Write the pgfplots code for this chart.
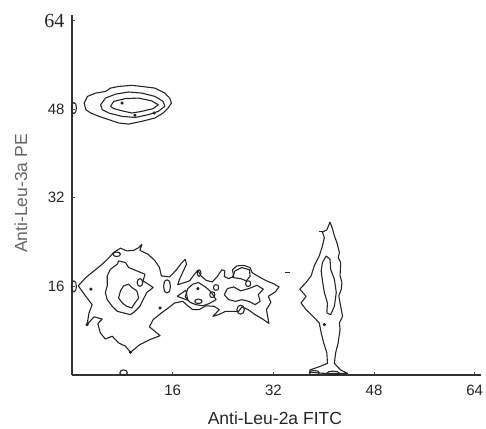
\documentclass[border=0pt]{standalone}
\usepackage{fontspec}
\setmainfont{Liberation Sans}
\newfontfamily\seriffont{Liberation Serif}
\usepackage{pgfplots}
\pgfplotsset{compat=1.18}
\begin{document}
\begin{tikzpicture}
\begin{axis}[
 scale only axis, width=409pt, height=360pt,
 xmin=0, xmax=65, ymin=0, ymax=65,
 axis lines=left,
 axis line style={-, line width=2.2pt, color=black!80},
 xtick={16,32,48,64}, ytick={16,32,48,64},
 xticklabels={16,32,48,64},
 yticklabels={16,32,48,{\seriffont\fontsize{20}{20}\selectfont 64}},
 tick align=inside, major tick length=3pt,
 tick style={black!70, line width=0.8pt},
 ticklabel style={font=\fontsize{15}{15}\selectfont, text=black!85},
 xticklabel style={yshift=-6pt},
 yticklabel style={xshift=-4pt},
 xlabel={Anti-Leu-2a FITC}, ylabel={Anti-Leu-3a PE},
 xlabel style={font=\fontsize{17.5}{18}\selectfont, text=black!85, at={(axis description cs:0.496,-0.119)}, anchor=center},
 ylabel style={font=\fontsize{17.5}{18}\selectfont, text=black!60, at={(axis description cs:-0.125,0.504)}, anchor=center},
 clip=false,
 every axis plot/.append style={line width=1.1pt, color=black!85, line join=round},
]
% ---- top cluster (y ~ 48)
\addplot[mark=none] coordinates {(1.93,49.1)(2.46,50.3)(3.76,50.9)(5.33,51.2)(6.12,51.8)(7.42,52.1)(9.52,52.3)(11.09,52.1)(13.18,51.8)(14.75,50.9)(15.53,50.0)(15.79,49.1)(15.27,48.2)(14.48,47.3)(13.18,46.4)(11.09,45.8)(8.99,45.3)(7.42,45.5)(5.85,46.1)(4.28,46.7)(2.98,47.3)(2.20,47.9)(1.93,49.1)};
\addplot[mark=none] coordinates {(4.55,48.8)(5.33,50.0)(6.90,50.7)(8.99,51.1)(11.09,50.9)(13.18,50.3)(14.48,49.4)(14.75,48.5)(13.70,47.6)(12.13,47.0)(10.04,46.5)(7.95,46.7)(5.85,47.3)(4.81,47.9)(4.55,48.8)};
\addplot[mark=none] coordinates {(6.12,48.5)(6.64,49.4)(8.47,49.9)(10.56,50.0)(12.65,49.5)(13.70,48.8)(12.91,48.1)(11.09,47.6)(9.52,47.3)(7.95,47.7)(6.64,48.1)(6.12,48.5)};
\addplot[mark=none] coordinates {(0.7,48.2)(0.6,48.9)(0.3,49.2)(0.0,48.9)(-0.1,48.2)(0.0,47.5)(0.3,47.2)(0.6,47.5)(0.7,48.2)};
% ---- left + middle cluster outer contour
\addplot[mark=none] coordinates {(1.0,16.1)(2.2,17.6)(3.5,18.8)(4.8,20.0)(5.9,21.2)(6.6,22.1)(7.7,22.9)(8.7,22.4)(9.8,22.5)(10.6,23.0)(11.1,23.6)(10.8,22.5)(12.1,21.8)(13.2,20.6)(13.9,19.4)(14.2,17.9)(15.5,17.7)(16.6,19.0)(17.4,20.2)(18.0,20.9)(18.2,20.0)(17.7,18.8)(17.1,17.3)(16.8,16.3)(18.7,17.0)(19.2,17.8)(20.0,18.9)(20.5,17.9)(21.3,17.1)(22.3,16.8)(23.1,17.8)(23.8,19.0)(24.3,18.8)(24.2,17.8)(24.9,17.4)(25.7,17.8)(25.5,19.0)(26.2,19.7)(27.3,19.8)(28.3,19.4)(28.6,18.5)(29.6,17.8)(30.9,17.0)(32.0,16.5)(32.9,15.9)(32.3,15.0)(31.2,14.2)(31.6,13.1)(30.9,11.8)(31.3,9.3)(30.3,10.1)(29.1,10.9)(28.0,11.8)(27.0,12.3)(26.5,11.5)(25.5,11.5)(24.4,11.5)(23.3,10.9)(22.4,10.6)(23.4,11.8)(22.6,12.4)(21.3,12.5)(20.2,11.8)(19.2,11.8)(18.4,12.5)(17.6,13.3)(16.3,13.0)(15.3,12.1)(14.2,11.2)(12.9,10.0)(12.3,8.7)(14.0,7.1)(12.4,6.4)(10.8,5.5)(9.3,4.1)(8.5,5.2)(7.4,5.8)(6.4,7.0)(5.3,6.5)(4.5,7.6)(4.1,9.3)(4.8,10.1)(3.5,10.5)(2.4,9.1)(2.7,11.2)(3.2,12.7)(2.2,14.2)(1.0,16.1)};
% left cluster middle and inner contours
\addplot[mark=none] coordinates {(5.6,17.9)(6.1,19.1)(7.2,20.0)(7.4,20.6)(8.5,20.3)(9.0,19.4)(10.3,18.8)(11.6,18.2)(11.3,17.0)(12.1,16.4)(12.9,15.8)(11.9,14.9)(11.3,13.6)(10.8,12.4)(10.0,11.5)(9.3,10.9)(8.2,11.2)(7.2,11.5)(6.4,12.4)(5.6,13.6)(5.3,14.9)(5.6,16.1)(5.6,17.9)};
\addplot[mark=none] coordinates {(7.7,15.2)(8.2,16.1)(9.0,16.4)(9.5,15.8)(10.3,15.2)(10.6,13.9)(10.0,13.0)(9.5,12.1)(8.7,12.4)(8.0,13.0)(7.4,13.9)(7.7,15.2)};
\addplot[mark=none] coordinates {(11.25,16.7)(11.1,17.2)(10.8,17.4)(10.5,17.2)(10.35,16.7)(10.5,16.2)(10.8,16.0)(11.1,16.2)(11.25,16.7)};
\addplot[mark=none] coordinates {(7.7,21.8)(7.5,22.1)(7.1,22.2)(6.7,22.1)(6.5,21.8)(6.7,21.5)(7.1,21.4)(7.5,21.5)(7.7,21.8)};
\addplot[mark=none] coordinates {(15.65,16.0)(15.5,16.9)(15.1,17.2)(14.7,16.9)(14.55,16.0)(14.7,15.1)(15.1,14.8)(15.5,15.1)(15.65,16.0)};
\addplot[mark=none] coordinates {(0.7,16.0)(0.6,16.7)(0.3,17.0)(0.0,16.7)(-0.1,16.0)(0.0,15.3)(0.3,15.0)(0.6,15.3)(0.7,16.0)};
% middle cluster
\addplot[mark=none] coordinates {(16.7,14.2)(18.1,15.3)(18.4,13.5)(16.7,14.2)};
\addplot[mark=none] coordinates {(18.4,15.6)(19.2,16.4)(20.1,16.7)(21.2,15.9)(22.1,15.0)(22.9,13.6)(21.8,12.9)(20.8,12.5)(19.7,12.7)(18.8,13.1)(18.0,14.1)(18.4,15.6)};
\addplot[mark=none] coordinates {(20.5,18.4)(20.4,18.8)(20.2,19.0)(20.0,18.8)(19.9,18.4)(20.0,18.0)(20.2,17.8)(20.4,18.0)(20.5,18.4)};
\addplot[mark=none] coordinates {(22.7,14.5)(22.6,14.9)(22.3,15.0)(22.0,14.9)(21.9,14.5)(22.0,14.1)(22.3,14.0)(22.6,14.1)(22.7,14.5)};
\addplot[mark=none] coordinates {(23.3,15.8)(23.2,16.2)(22.9,16.3)(22.6,16.2)(22.5,15.8)(22.6,15.4)(22.9,15.3)(23.2,15.4)(23.3,15.8)};
\addplot[mark=none] coordinates {(20.7,13.3)(20.5,13.6)(20.1,13.7)(19.7,13.6)(19.5,13.3)(19.7,13.0)(20.1,12.9)(20.5,13.0)(20.7,13.3)};
% right part of middle cluster
\addplot[mark=none] coordinates {(24.7,15.6)(25.7,15.9)(26.8,15.2)(28.1,15.6)(29.4,16.2)(30.4,15.5)(29.6,14.5)(29.9,13.3)(29.1,12.7)(28.1,13.3)(27.0,13.6)(26.0,13.3)(24.9,13.6)(24.2,14.5)(24.7,15.6)};
\addplot[mark=none] coordinates {(25.5,17.6)(25.9,18.8)(27.0,19.4)(28.2,19.0)(28.3,17.8)(27.7,17.0)(26.8,17.4)(25.5,17.6)};
\addplot[mark=none] coordinates {(28.4,16.5)(28.3,16.9)(28.0,17.0)(27.7,16.9)(27.6,16.5)(27.7,16.1)(28.0,16.0)(28.3,16.1)(28.4,16.5)};
\addplot[mark=none] coordinates {(27.4,11.8)(27.2,12.4)(26.8,12.6)(26.4,12.4)(26.2,11.8)(26.4,11.2)(26.8,11.0)(27.2,11.2)(27.4,11.8)};
\addplot[mark=none] coordinates {(33.8,18.5)(34.6,18.5)};
% ---- right cluster (x ~ 40)
\addplot[mark=none] coordinates {(41.0,27.6)(41.4,26.4)(41.7,25.1)(42.1,23.9)(42.5,22.1)(42.3,21.2)(42.7,20.3)(42.6,17.9)(42.9,16.7)(42.8,15.5)(42.4,14.3)(42.6,13.0)(43.0,10.6)(42.5,9.4)(42.6,8.2)(42.3,5.8)(41.9,4.0)(41.7,2.1)(42.7,0.9)(43.8,0.3)(40.0,0.3)(37.8,0.5)(37.8,0.9)(39.3,1.5)(40.6,2.1)(40.5,4.0)(40.0,5.8)(39.6,7.6)(39.3,9.4)(38.3,10.6)(37.2,11.8)(36.4,13.0)(37.2,14.2)(36.2,15.5)(37.2,16.7)(38.0,17.9)(38.5,19.7)(39.3,21.5)(39.8,23.3)(40.1,24.8)(39.8,25.8)(40.5,26.2)(41.0,27.6)};
\addplot[mark=none] coordinates {(40.4,21.5)(41.0,20.9)(41.1,19.1)(41.7,17.3)(42.0,14.9)(41.7,12.4)(41.1,10.9)(40.5,11.2)(40.6,13.0)(40.1,14.9)(39.8,17.0)(39.6,18.8)(39.8,20.3)(40.4,21.5)};
\addplot[mark=none] coordinates {(39.2,25.9)(40.0,25.9)};
% small loops on x axis
\addplot[mark=none] coordinates {(39.3,0.4)(39.1,0.7)(38.5,0.8)(37.9,0.7)(37.7,0.4)(37.9,0.1)(38.5,0.0)(39.1,0.1)(39.3,0.4)};
\addplot[mark=none] coordinates {(42.5,0.3)(42.2,0.6)(41.5,0.7)(40.8,0.6)(40.5,0.3)(40.8,0.0)(41.5,0.0)(42.2,0.0)(42.5,0.3)};
\addplot[mark=none] coordinates {(8.8,0.4)(8.6,0.8)(8.2,0.9)(7.8,0.8)(7.6,0.4)(7.8,0.0)(8.2,0.0)(8.6,0.0)(8.8,0.4)};
% dots
\addplot[only marks, mark=*, mark size=1.1pt, black!85] coordinates {(7.95,49.1)(13.07,47.3)(10.0,46.9)(3.0,15.5)(14.0,12.1)(20.0,15.6)(40.1,9.1)(2.4,9.1)(9.3,4.1)};
\coordinate (LL) at (rel axis cs:0,0);
\coordinate (UR) at (rel axis cs:1,1);
\end{axis}
\pgfresetboundingbox
\path ([xshift=-72pt,yshift=-54pt]LL) rectangle ([xshift=5pt,yshift=15pt]UR);
\end{tikzpicture}
\end{document}
